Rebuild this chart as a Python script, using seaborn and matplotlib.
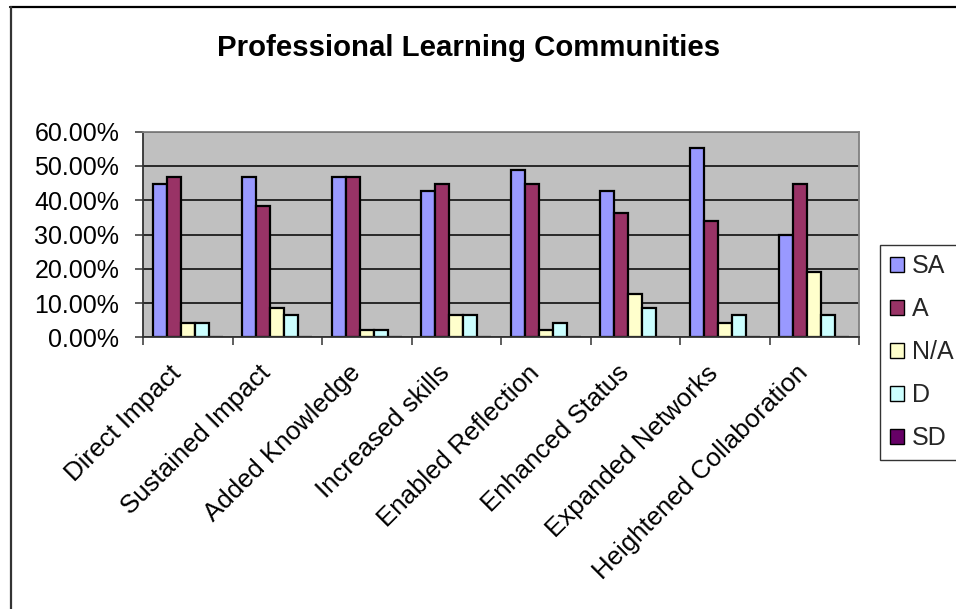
import matplotlib
matplotlib.use("Agg")
import matplotlib.pyplot as plt
import matplotlib.transforms as mtransforms
from matplotlib.lines import Line2D
from matplotlib.patches import Patch
from matplotlib.ticker import PercentFormatter, FixedLocator, NullFormatter
import numpy as np
import pandas as pd
import seaborn as sns

# Survey outcomes for the professional learning communities programme
categories = ["Direct Impact", "Sustained Impact", "Added Knowledge", "Increased skills",
              "Enabled Reflection", "Enhanced Status", "Expanded Networks",
              "Heightened Collaboration"]
responses = ["SA", "A", "N/A", "D", "SD"]

sa = [0.4468, 0.4681, 0.4681, 0.4255, 0.4894, 0.4255, 0.5532, 0.2979]
agree = [0.4681, 0.3830, 0.4681, 0.4468, 0.4468, 0.3617, 0.3404, 0.4468]
na = [0.0426, 0.0851, 0.0213, 0.0638, 0.0213, 0.1277, 0.0426, 0.1915]
disagree = [0.0426, 0.0638, 0.0213, 0.0638, 0.0426, 0.0851, 0.0638, 0.0638]
sd = [0.0, 0.0, 0.0, 0.0, 0.0, 0.0, 0.0, 0.0]

y_ticks = [0.0, 0.1, 0.2, 0.3, 0.4, 0.5, 0.6]

colors = {"SA": "#9999FF", "A": "#993366", "N/A": "#FFFFCC", "D": "#CCFFFF", "SD": "#660066"}

df = pd.DataFrame({
    "category": np.repeat(categories, len(responses)),
    "response": responses * len(categories),
    "value": np.column_stack([sa, agree, na, disagree, sd]).ravel(),
})

sns.set_theme(style="white")
plt.rcParams["font.family"] = ["Liberation Sans", "DejaVu Sans"]

W, H = 956, 609
fig = plt.figure(figsize=(W / 100, H / 100), dpi=100)
fig.patch.set_facecolor("white")

ax = fig.add_axes([143 / W, 1 - 337.3 / H, (859 - 143) / W, (337.3 - 131.7) / H])
ax.set_facecolor("#C0C0C0")

sns.barplot(data=df, x="category", y="value", hue="response",
            hue_order=responses, order=categories, palette=colors,
            width=0.78, gap=0, edgecolor="black", linewidth=1.6,
            saturation=1, legend=False, ax=ax, errorbar=None)

ax.set_xlim(-0.5, len(categories) - 0.5)
ax.set_ylim(0, 0.6)
ax.set_xlabel("")
ax.set_ylabel("")

# y axis: percentages with two decimals and black gridlines
ax.yaxis.set_major_locator(FixedLocator(y_ticks))
ax.yaxis.set_major_formatter(PercentFormatter(xmax=1, decimals=2))
ax.yaxis.grid(True, color="black", linewidth=1.1)
ax.set_axisbelow(True)
ax.tick_params(axis="y", which="major", left=True, length=6, width=1.1,
               color="#333333", pad=11, labelsize=18, labelcolor="black")

# x axis: tick marks between categories, labels at category centres
ax.xaxis.set_minor_locator(FixedLocator(np.arange(-0.5, len(categories), 1.0)))
ax.xaxis.set_minor_formatter(NullFormatter())
ax.tick_params(axis="x", which="minor", bottom=True, length=6, width=1.1, color="#333333")
ax.tick_params(axis="x", which="major", bottom=False, length=0, pad=0,
               labelsize=18.6, labelcolor="black")
offset = mtransforms.ScaledTranslation(-10 / 100, -32 / 100, fig.dpi_scale_trans)
for lab in ax.get_xticklabels():
    lab.set_rotation(45)
    lab.set_ha("right")
    lab.set_va("center")
    lab.set_rotation_mode("anchor")
    lab.set_transform(lab.get_transform() + offset)

for side in ["left", "bottom"]:
    ax.spines[side].set_color("#333333")
    ax.spines[side].set_linewidth(1.3)
for side in ["top", "right"]:
    ax.spines[side].set_color("#808080")
    ax.spines[side].set_linewidth(1.3)

fig.text(469 / W, 1 - 48 / H, "Professional Learning Communities",
         ha="center", va="center", fontsize=21.2, fontweight="bold", color="black")

handles = [Patch(facecolor=colors[r], edgecolor="black", linewidth=1.0, label=r)
           for r in responses]
leg = fig.legend(handles=handles, loc="upper left",
                 bbox_to_anchor=(880 / W, 1 - 245 / H, 0.2, 0.0001),
                 mode="expand", fontsize=18, frameon=True, fancybox=False,
                 handlelength=0.58, handleheight=0.58, handletextpad=0.3,
                 labelspacing=0.76, borderpad=0.38, borderaxespad=0)
leg.get_frame().set_edgecolor("black")
leg.get_frame().set_linewidth(1.0)
leg.get_frame().set_facecolor("white")

# outer chart-area frame (top and left edges)
fig.add_artist(Line2D([10 / W, 1.0], [1 - 7 / H, 1 - 7 / H], transform=fig.transFigure,
                      color="black", linewidth=1.6))
fig.add_artist(Line2D([11 / W, 11 / W], [1 - 7 / H, 0.0], transform=fig.transFigure,
                      color="#333333", linewidth=1.6))

fig.savefig("out.png", dpi=100)
